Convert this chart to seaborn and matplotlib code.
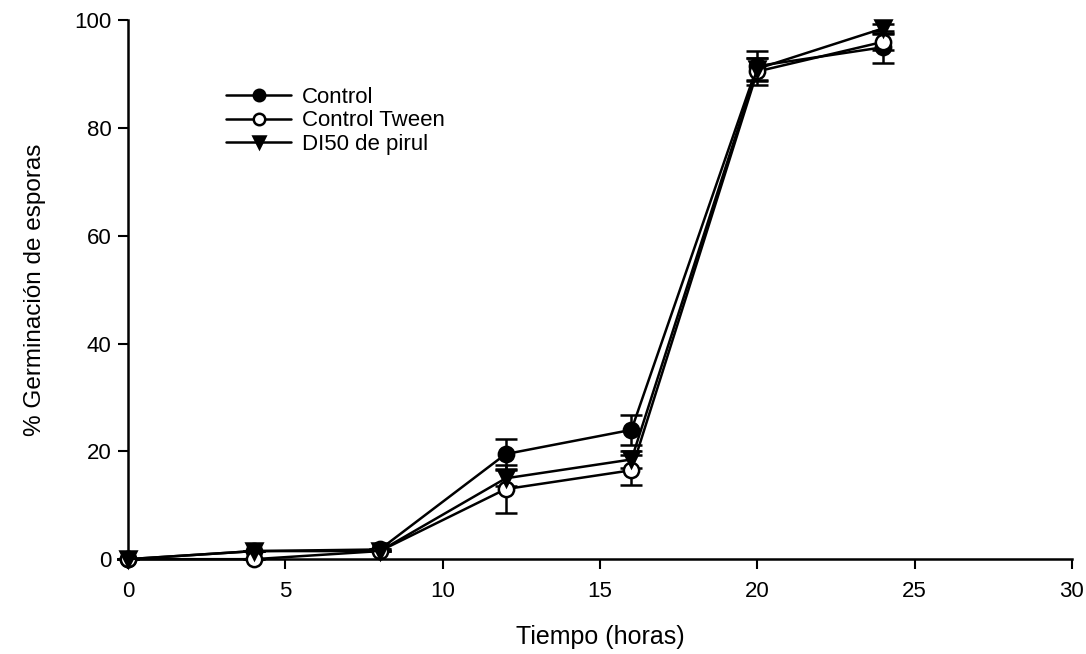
import numpy as np
import pandas as pd
import matplotlib
matplotlib.use('Agg')
import matplotlib.pyplot as plt
import seaborn as sns

# Datos
tiempo = [0, 4, 8, 12, 16, 20, 24]
control = [0.0, 1.5, 1.8, 19.5, 24.0, 91.5, 95.0]
control_err = [0.0, 0.0, 0.0, 2.8, 2.8, 2.8, 3.0]
tween = [0.0, 0.0, 1.5, 13.0, 16.5, 90.5, 96.0]
tween_err = [0.0, 0.0, 0.0, 4.5, 2.8, 2.5, 1.5]
pirul = [0.0, 1.5, 1.5, 15.0, 18.5, 91.0, 98.5]
pirul_err = [0.0, 0.0, 0.0, 1.5, 1.5, 2.0, 0.8]
nombres = ['Control', 'Control Tween', 'DI50 de pirul']

sns.set_style('ticks')
plt.rcParams['font.family'] = ['Liberation Sans', 'DejaVu Sans']
for k in ['text.color', 'axes.labelcolor', 'xtick.color', 'ytick.color', 'axes.edgecolor']:
    plt.rcParams[k] = 'black'

fig = plt.figure(figsize=(10.86, 6.54), dpi=100)
ax = fig.add_axes([0.118, 0.145, 0.869, 0.824])

series = [
    (control, control_err, nombres[0], 'o', 'black'),
    (tween, tween_err, nombres[1], 'o', 'white'),
    (pirul, pirul_err, nombres[2], 'v', 'black'),
]
for y, err, nombre, m, fc in series:
    ax.errorbar(tiempo, y, yerr=err, fmt='none', ecolor='black', elinewidth=1.8,
                capsize=8, capthick=1.8, zorder=2)
    sns.lineplot(x=tiempo, y=y, ax=ax, color='black', linewidth=1.8, marker=m,
                 markersize=11, markerfacecolor=fc, markeredgecolor='black',
                 markeredgewidth=1.8, label=nombre, zorder=3)

ax.set_xlim(0, 30)
ax.set_ylim(0, 100)
ax.set_xticks(range(0, 31, 5))
ax.set_yticks(range(0, 101, 20))
ax.tick_params(axis='both', labelsize=16, direction='out', length=7, width=1.5, pad=5)
ax.tick_params(axis='x', pad=9)
for s in ['left', 'bottom']:
    ax.spines[s].set_linewidth(1.8)
sns.despine(ax=ax)

ax.set_xlabel('Tiempo (horas)', fontsize=18, labelpad=16)
ax.set_ylabel('% Germinación de esporas', fontsize=17.5, labelpad=20)

ax.legend(loc='upper left', bbox_to_anchor=(0.083, 0.913), frameon=False,
          fontsize=16, handlelength=2.9, labelspacing=0.1, handletextpad=0.5,
          markerscale=0.75)

for c in ax.get_children():
    try:
        c.set_clip_on(False)
    except Exception:
        pass

fig.savefig('out.png', dpi=100)
